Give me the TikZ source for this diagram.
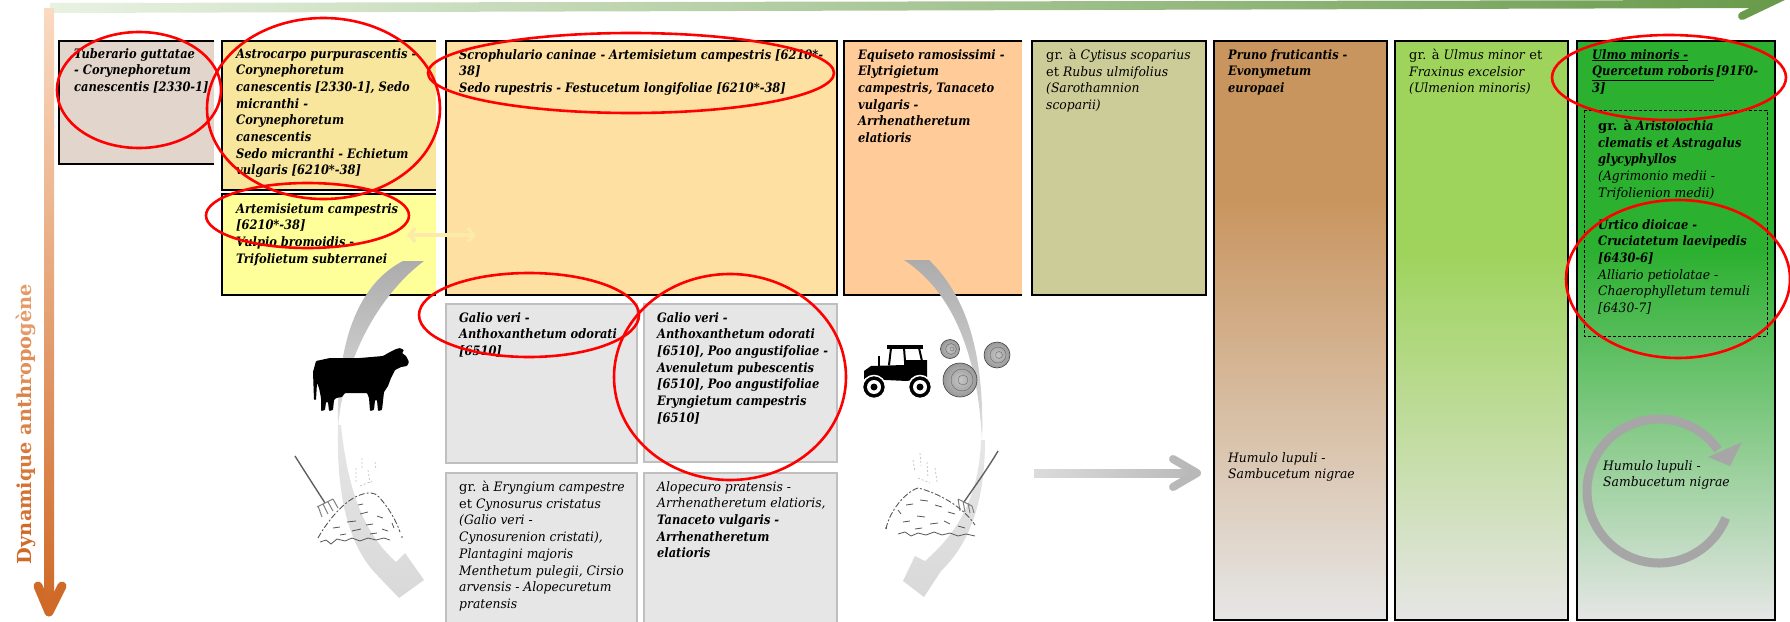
\documentclass[tikz,border=0pt]{standalone}
\usepackage{fontspec}
\setmainfont{DejaVu Serif}[BoldItalicFeatures={FakeStretch=0.88}, ItalicFeatures={FakeStretch=0.95}]
\usetikzlibrary{arrows.meta}
\definecolor{tubc}{HTML}{E2D5CC}
\definecolor{astc}{HTML}{F8E69C}
\definecolor{artc}{HTML}{FFFF9A}
\definecolor{scrc}{HTML}{FDE0A2}
\definecolor{equc}{HTML}{FFCB99}
\definecolor{cytc}{HTML}{CCCC99}
\definecolor{pruc}{HTML}{C9955F}
\definecolor{ulmc}{HTML}{9ED35C}
\definecolor{uloc}{HTML}{2BB030}
\definecolor{grayb}{HTML}{E6E6E6}
\definecolor{grayl}{HTML}{BFBFBF}
\definecolor{ordk}{HTML}{D06A28}
\definecolor{orlt}{HTML}{F8CBA8}
\definecolor{grlt}{HTML}{E8F2E2}
\definecolor{grdk}{HTML}{6A9B4C}
\definecolor{haycol}{HTML}{555555}
\definecolor{circg}{HTML}{A6A6A6}
\definecolor{yelarr}{HTML}{FCEBA8}
\newcommand{\dyncol}[2]{\textcolor{ordk!#1!orlt}{#2}}
\begin{document}
\begin{tikzpicture}[x=1pt,y=-1pt,
  lbl/.style={anchor=north west, inner sep=0pt, align=left, font=\fontsize{13}{16.7}\selectfont\itshape},
  lblb/.style={lbl, font=\fontsize{13}{16.7}\selectfont\itshape\bfseries},
  redmark/.style={draw=red, line width=2.6pt},
  frame/.style={draw=black, line width=1.6pt},
  tallframe/.style={draw=black, line width=1.2pt},
  graybox/.style={fill=grayb, draw=grayl, line width=1.2pt},
  bale/.style={draw=gray!50!black, line width=0.6pt, inner color=gray!45, outer color=gray!80},
  baletex/.style={draw=gray!45!black, line width=0.4pt, opacity=0.6},
]
\useasboundingbox (0,0) rectangle (1790,621);

% ---------- axis arrows ----------
\shade[left color=grlt, right color=grdk] (50,3) -- (1766,0) -- (1766,8) -- (50,13) -- cycle;
\coordinate (gbarbA) at (1742,16);
\coordinate (gbarbB) at (1786,-5);
\draw[grdk, line width=8pt, line cap=round] (gbarbA) -- (gbarbB);

\shade[top color=orlt!70!white, bottom color=ordk] (44,8) rectangle (54,606);
\coordinate (obarbL) at (38,586);
\coordinate (otip) at (49,612);
\coordinate (obarbR) at (62,586);
\draw[ordk, line width=9pt, line cap=round, line join=round] (obarbL) -- (otip) -- (obarbR);
\node[rotate=90] (dyn) at (26,424) {\resizebox{280pt}{!}{\fontsize{17}{20}\selectfont\bfseries
  \dyncol{100}{Dyn}\dyncol{92}{ami}\dyncol{84}{que }\dyncol{74}{anth}\dyncol{62}{ropo}\dyncol{50}{gène}}};

% ---------- upper row of boxes ----------
\fill[tubc] (59,41) rectangle (214,164);
\draw[frame] (214,41) -- (59,41) -- (59,164) -- (214,164);
\fill[astc] (222,41) rectangle (436,190);
\draw[frame] (436,41) -- (222,41) -- (222,190) -- (436,190);
\fill[artc] (222,194) rectangle (436,295);
\draw[frame] (436,194) -- (222,194) -- (222,295) -- (436,295);
\filldraw[fill=scrc, frame] (446,41) rectangle (837,295);
\fill[equc] (844,41) rectangle (1022,295);
\draw[frame] (1022,41) -- (844,41) -- (844,295) -- (1022,295);
\filldraw[fill=cytc, frame] (1032,41) rectangle (1206,295);

% ---------- tall woodland columns ----------
\fill[pruc] (1214,41) rectangle (1387,200.5);
\shade[top color=pruc, bottom color=grayb] (1214,200) rectangle (1387,620);
\draw[tallframe] (1214,41) rectangle (1387,620);
\fill[ulmc] (1395,41) rectangle (1568,250.5);
\shade[top color=ulmc, bottom color=grayb] (1395,250) rectangle (1568,620);
\draw[tallframe] (1395,41) rectangle (1568,620);
\fill[uloc] (1577,41) rectangle (1775,250.5);
\shade[top color=uloc, bottom color=grayb] (1577,250) rectangle (1775,620);
\draw[tallframe] (1577,41) rectangle (1775,620);
\draw[black, line width=0.8pt, dash pattern=on 3pt off 2pt] (1584,110) rectangle (1767,336);

% ---------- grey grassland boxes ----------
\filldraw[graybox] (446,304) rectangle (637,463);
\filldraw[graybox] (644,304) rectangle (837,462);
\filldraw[graybox] (446,473) rectangle (637,626);
\filldraw[graybox] (644,473) rectangle (837,626);

% ---------- small yellow exchange arrow ----------
\coordinate (yA) at (407,235);
\coordinate (yB) at (476,235);
\draw[yelarr, line width=3.5pt, {Straight Barb[length=6pt,width=14pt]}-{Straight Barb[length=6pt,width=14pt]}] (yA) -- (yB);

% ---------- grazing cycle (left) ----------
\shade[top color=gray!65, bottom color=gray!25] (403,261) .. controls (362,282) and (336,335) .. (338,427)
  .. controls (345,350) and (385,290) .. (424,261) -- cycle;
\shade[top color=gray!20, bottom color=gray!30] (338,425) .. controls (336,500) and (350,548) .. (378,576)
  -- (399,598) -- (424,580) -- (405,553) -- (396,562) .. controls (366,535) and (348,495) .. (341,425) -- cycle;

% cow
\fill[black, rounded corners=0.8pt] (316,361) -- (330,358) -- (360,358) -- (383,356) -- (390,352) -- (396,349)
  -- (400,348) -- (404,350) -- (402,353) -- (406,356) -- (409,362) -- (407,366) -- (401,367) -- (395,370) -- (391,378)
  -- (388,386) -- (384,392) -- (382,410) -- (378,411) -- (377,400) -- (375,400) -- (374,410) -- (370,411) -- (369,398)
  -- (367,393) -- (345,393) -- (342,397) -- (336,398) -- (334,400) -- (333,410) -- (329,411) -- (328,402)
  -- (326,402) -- (325,410) -- (321,411) -- (321,398) -- (319,388) -- (317,383) -- (316,400) -- (314,400)
  -- (313,372) -- cycle;

% hay heap with fork (left)
\draw[gray!75!black, line width=1.4pt] (295,456) .. controls (305,472) and (318,492) .. (325,503);
\draw[gray, line width=1pt] (317,507) -- (333,499) (318,506) -- (322,517) (323,504) -- (328,514)
  (328,502) -- (333,511) (333,499) -- (338,508);
\draw[haycol, line width=0.9pt, dash pattern=on 6pt off 2pt on 2pt off 2pt] (318,538) .. controls (328,520) and (345,500) .. (360,495)
  .. controls (368,492) and (375,492) .. (379,497) .. controls (388,507) and (396,520) .. (400,532);
\draw[haycol, line width=0.8pt] (320,542) -- (326,540) -- (331,544) -- (337,539) -- (345,541) -- (352,538)
  -- (360,541) -- (368,538) -- (376,540) -- (384,538) -- (390,540);
\draw[haycol, line width=0.8pt] (333,528) -- (340,527) (347,522) -- (356,521) (360,514) -- (368,512)
  (352,531) -- (361,529) (366,525) -- (373,524) (377,516) -- (383,518) (382,529) -- (388,531)
  (370,534) -- (377,533) (340,535) -- (346,534) (358,505) -- (363,504) (392,523) -- (394,528);
\fill[haycol] (402,537) circle (0.9);
\draw[gray!45, line width=0.8pt, dash pattern=on 2pt off 2pt] (362,458) -- (362,470) (356,468) -- (356,482)
  (368,470) -- (370,483) (375,462) -- (376,470) (360,486) -- (372,481);

% ---------- mowing cycle (right) ----------
\shade[top color=gray!65, bottom color=gray!25] (904,260) .. controls (950,290) and (978,350) .. (982,442)
  .. controls (985,350) and (965,295) .. (929,260) -- cycle;
\shade[top color=gray!20, bottom color=gray!30] (985,440) .. controls (985,505) and (968,545) .. (941,571)
  -- (924,597) -- (903,581) -- (915,556) -- (925,561) .. controls (955,535) and (979,500) .. (981,440) -- cycle;

% tractor
\fill[black] (864,379) -- (864,371) -- (871,366) -- (904,365) -- (904,360) -- (927,360) -- (927,377) -- (907,381) -- cycle;
\fill[black] (887,345) rectangle (923,348.5);
\draw[black, line width=2pt] (891,348) -- (889,365) (904,348) -- (905,361) (919,348) -- (922,361);
\draw[black, line width=2.2pt] (879,356) -- (879,366);
\foreach \wx in {874,920} {
  \filldraw[fill=black, draw=white, line width=1.5pt] (\wx,387) circle (11.5);
  \fill[white] (\wx,387) circle (7);
  \fill[black] (\wx,387) circle (3.5);
}
% bales
\shade[bale] (950,349) circle (9.5);
\draw[baletex] (951,349) circle (5.5) (952,349) circle (2);
\shade[bale] (997,355) circle (13);
\draw[baletex] (998,355) circle (8) (999,355) circle (3.5);
\shade[bale] (960,380) circle (17);
\draw[baletex] (962,380) circle (11) (963,380) circle (5);

% hay heap with fork (right)
\draw[gray!75!black, line width=1.4pt] (998,451) .. controls (988,468) and (975,486) .. (964,502);
\draw[gray, line width=1pt] (958,499) -- (972,506) (958,499) -- (960,511) (963,501) -- (965,512)
  (968,503) -- (970,513) (972,506) -- (974,513);
\draw[haycol, line width=0.9pt, dash pattern=on 6pt off 2pt on 2pt off 2pt] (886,529) .. controls (889,512) and (905,492) .. (918,488)
  .. controls (935,492) and (962,505) .. (975,525);
\draw[haycol, line width=0.8pt] (898,534) -- (905,532) -- (911,536) -- (918,533) -- (926,535) -- (934,532)
  -- (942,535) -- (950,533) -- (958,536) -- (966,534) -- (975,536);
\draw[haycol, line width=0.8pt] (898,510) -- (901,514) (906,505) -- (913,504) (920,500) -- (928,501)
  (935,505) -- (942,507) (948,512) -- (955,514) (903,522) -- (910,521) (917,516) -- (925,517)
  (930,524) -- (938,523) (944,521) -- (950,524) (958,526) -- (965,528) (915,529) -- (922,528);
\fill[haycol] (886,528) circle (1);
\draw[gray!45, line width=0.8pt, dash pattern=on 2pt off 2pt] (913,460) -- (915,472) (920,453) -- (921,466)
  (927,462) -- (928,478) (935,468) -- (937,482) (918,478) -- (930,483);

% ---------- succession arrow ----------
\coordinate (hA) at (1034,473);
\coordinate (hB) at (1197,473);
\shade[left color=gray!28, right color=gray!55] (1034,469) rectangle (1196,477);
\draw[gray!55, line width=8pt, line cap=round, line join=round] (1173,459) -- (hB) -- (1173,487);

% ---------- cyclic arrow in the elm column ----------
\draw[circg, line width=9pt] (1659,491) ++(22:72) arc[start angle=22, end angle=325, radius=72];
\fill[circg] (1708,457) -- (1742,442) -- (1730,466) -- cycle;

% ---------- community names ----------
\node[lblb] (tub) at (74,48) {Tuberario guttatae\\- Corynephoretum\\canescentis [2330-1]};
\node[lblb] (ast) at (236,48) {Astrocarpo purpurascentis -\\Corynephoretum\\canescentis [2330-1], Sedo\\micranthi -\\Corynephoretum\\canescentis\\Sedo micranthi - Echietum\\vulgaris [6210*-38]};
\node[lblb] (art) at (236,203) {Artemisietum campestris\\{}[6210*-38]\\Vulpio bromoidis -\\Trifolietum subterranei};
\node[lblb] (scr) at (459,49) {Scrophulario caninae - Artemisietum campestris [6210*-\\38]\\Sedo rupestris - Festucetum longifoliae [6210*-38]};
\node[lblb] (equ) at (858,49) {Equiseto ramosissimi -\\Elytrigietum\\campestris, Tanaceto\\vulgaris -\\Arrhenatheretum\\elatioris};
\node[lbl] (cyt) at (1046,49) {\textup{gr. à} Cytisus scoparius\\\textup{et} Rubus ulmifolius\\(Sarothamnion\\scoparii)};
\node[lblb] (pru) at (1228,49) {Pruno fruticantis -\\Evonymetum\\europaei};
\node[lbl] (hum1) at (1228,452) {Humulo lupuli -\\Sambucetum nigrae};
\node[lbl] (ulm) at (1409,49) {\textup{gr. à} Ulmus minor \textup{et}\\Fraxinus excelsior\\(Ulmenion minoris)};
\node[lblb] (ulo) at (1592,49) {\underline{Ulmo minoris -}\\\underline{Quercetum roboris}\,[91F0-\\3]};
\node[lbl] (ari) at (1598,120) {\textbf{\textup{gr. à} Aristolochia}\\\textbf{clematis et Astragalus}\\\textbf{glycyphyllos}\\(Agrimonio medii -\\Trifolienion medii)};
\node[lbl] (urt) at (1598,219) {\textbf{Urtico dioicae -}\\\textbf{Cruciatetum laevipedis}\\\textbf{[6430-6]}\\Alliario petiolatae -\\Chaerophylletum temuli\\{}[6430-7]};
\node[lbl] (hum2) at (1603,460) {Humulo lupuli -\\Sambucetum nigrae};
\node[lblb] (gal1) at (459,312) {Galio veri -\\Anthoxanthetum odorati\\{}[6510]};
\node[lblb] (gal2) at (657,312) {Galio veri -\\Anthoxanthetum odorati\\{}[6510], Poo angustifoliae -\\Avenuletum pubescentis\\{}[6510], Poo angustifoliae\\Eryngietum campestris\\{}[6510]};
\node[lbl] (ery) at (459,481) {\textup{gr. à} Eryngium campestre\\\textup{et} Cynosurus cristatus\\(Galio veri -\\Cynosurenion cristati),\\Plantagini majoris\\Menthetum pulegii, Cirsio\\arvensis - Alopecuretum\\pratensis};
\node[lbl] (alo) at (657,481) {Alopecuro pratensis -\\Arrhenatheretum elatioris,\\\textbf{Tanaceto vulgaris -}\\\textbf{Arrhenatheretum}\\\textbf{elatioris}};

% ---------- red highlights ----------
\draw[redmark] (139,90) ellipse [x radius=82, y radius=58];
\draw[redmark] (323.5,108.5) ellipse [x radius=116.5, y radius=90.5];
\draw[redmark] (307.5,215.5) ellipse [x radius=101.5, y radius=32.5];
\draw[redmark] (631,73) ellipse [x radius=203, y radius=40];
\draw[redmark] (529,315) ellipse [x radius=110, y radius=42];
\draw[redmark] (730,377) ellipse [x radius=116, y radius=103];
\draw[redmark] (1669,77.5) ellipse [x radius=117, y radius=42.5];
\draw[redmark] (1678,279) ellipse [x radius=112, y radius=79];
\end{tikzpicture}
\end{document}
